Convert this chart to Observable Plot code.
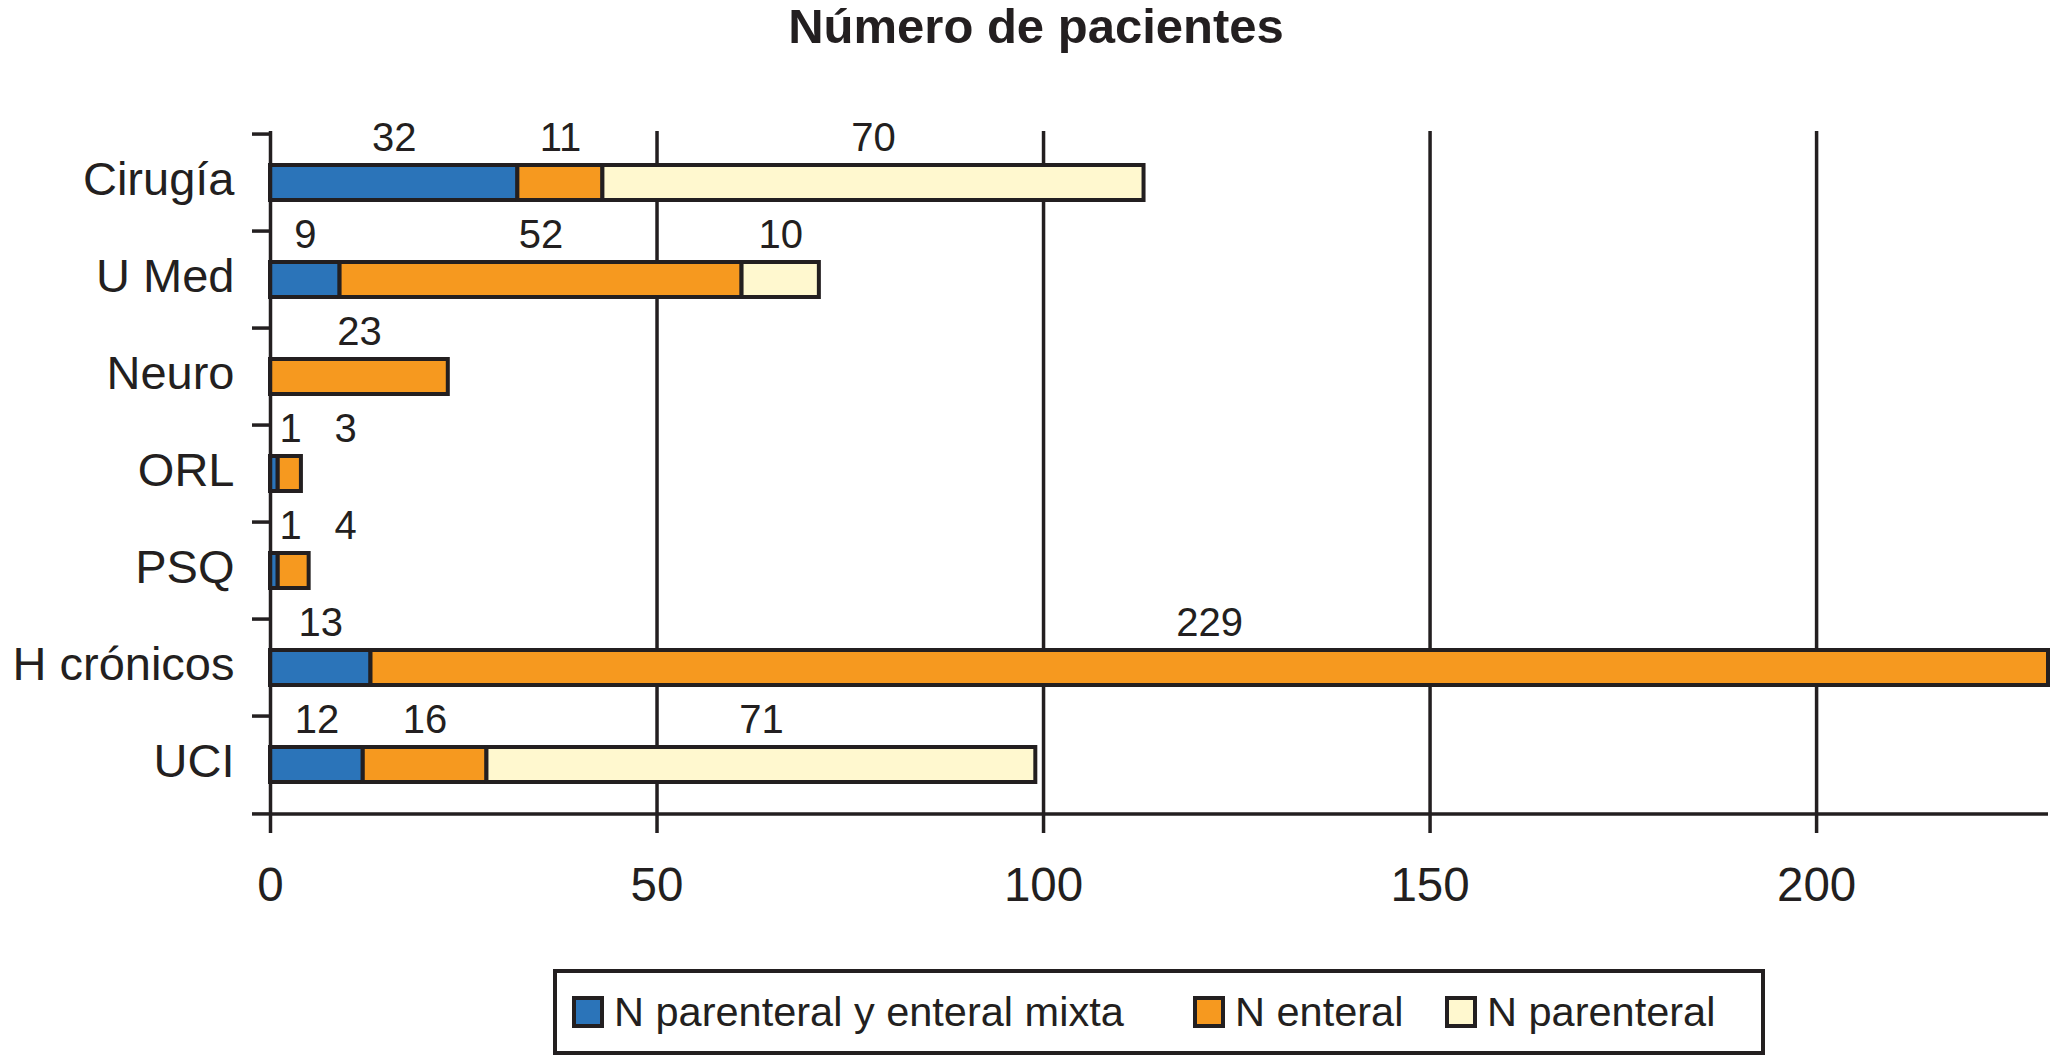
<!DOCTYPE html>
<html>
<head>
<meta charset="utf-8">
<script src="https://cdn.jsdelivr.net/npm/d3@7"></script>
<script src="https://cdn.jsdelivr.net/npm/@observablehq/plot@0.6"></script>
<style>
  html, body { margin: 0; padding: 0; background: #fff; }
  #wrap { position: relative; width: 2051px; height: 1058px; font-family: "Liberation Sans", Arial, Helvetica, sans-serif; color: #231f20; }
  #title { position: absolute; top: 2px; left: 0; width: 2072px; text-align: center; font-weight: bold; font-size: 49px; line-height: 1; }
  #chart { position: absolute; top: 60px; left: 0; }
  #legend { position: absolute; left: 553px; top: 969px; width: 1212px; height: 86px; box-sizing: border-box; border: 4px solid #231f20; background: #fff; }
  .item { position: absolute; top: 0; height: 78px; display: flex; align-items: center; font-size: 41.5px; line-height: 1; white-space: nowrap; }
  .sw { width: 32px; height: 32px; box-sizing: border-box; border: 4px solid #231f20; margin-right: 10px; }
</style>
</head>
<body>
<div id="wrap">
  <div id="title">Número de pacientes</div>
  <div id="chart"></div>
  <div id="legend"></div>
</div>
<script>
const categories = ["Cirugía", "U Med", "Neuro", "ORL", "PSQ", "H crónicos", "UCI"];
const series = ["N parenteral y enteral mixta", "N enteral", "N parenteral"];
const mixta = [32, 9, 0, 1, 1, 13, 12];
const enteral = [11, 52, 23, 3, 4, 229, 16];
const parenteral = [70, 10, 0, 0, 0, 0, 71];
const xTicks = [0, 50, 100, 150, 200];
const xMax = 230;
const colors = ["#2b74b9", "#f6991f", "#fff8cf"];
const ink = "#231f20";

const values = [mixta, enteral, parenteral];
const rows = [];
categories.forEach((c, i) => {
  series.forEach((s, j) => {
    if (values[j][i] > 0) rows.push({category: c, series: s, value: values[j][i]});
  });
});

// layout
const W = 2051, H = 900;
const mL = 270, mR = 3, mT = 71, mB = 144;
const ppu = (W - mL - mR) / xMax;
const step = (H - mT - mB) / categories.length;

// value labels at segment centres, nudged apart when segments are tiny
const labels = [];
categories.forEach((c, i) => {
  let start = 0, prev = -Infinity;
  series.forEach((s, j) => {
    const v = values[j][i];
    if (v > 0) {
      const end = start + v;
      let mid = (start + Math.min(end, xMax)) / 2;
      mid = Math.max(mid, 20 / ppu, prev + 55 / ppu);
      labels.push({category: c, lx: mid, value: v});
      prev = mid;
      start = end;
    }
  });
});

const plot = Plot.plot({
  width: W, height: H,
  marginLeft: mL, marginRight: mR, marginTop: mT, marginBottom: mB,
  style: {fontFamily: '"Liberation Sans", Arial, Helvetica, sans-serif', color: ink, background: "white", overflow: "visible"},
  x: {domain: [0, xMax], clamp: true},
  y: {domain: categories, paddingInner: 0.64, paddingOuter: 0.32},
  color: {domain: series, range: colors},
  marks: [
    Plot.ruleX(xTicks.slice(1), {stroke: ink, strokeWidth: 3.5}),
    Plot.barX(rows, Plot.stackX({x: "value", y: "category", fill: "series", stroke: ink, strokeWidth: 4})),
    Plot.ruleX([0], {stroke: ink, strokeWidth: 3.5}),
    Plot.ruleY([categories[categories.length - 1]], {dy: step / 2, stroke: ink, strokeWidth: 3.5}),
    Plot.axisY({tickSize: 18, strokeWidth: 3.5, tickFormat: () => "", dy: -step / 2, label: null}),
    Plot.axisY({ticks: [categories[categories.length - 1]], tickSize: 18, strokeWidth: 3.5, tickFormat: () => "", dy: step / 2, label: null}),
    Plot.axisY({tickSize: 0, tickPadding: 36, fontSize: 47, dy: -3, label: null}),
    Plot.axisX({ticks: xTicks, tickSize: 17, tickPadding: 34, fontSize: 47.5, strokeWidth: 3.5, label: null}),
    Plot.text(labels, {x: "lx", y: "category", text: d => String(d.value), dy: -45, fontSize: 40, fill: ink})
  ]
});
document.getElementById("chart").appendChild(plot);

// legend
const legend = document.getElementById("legend");
const itemLeft = [15, 636, 888];
series.forEach((s, j) => {
  const it = document.createElement("div");
  it.className = "item";
  it.style.left = itemLeft[j] + "px";
  const sw = document.createElement("div");
  sw.className = "sw";
  sw.style.background = colors[j];
  const tx = document.createElement("span");
  tx.textContent = s;
  it.appendChild(sw);
  it.appendChild(tx);
  legend.appendChild(it);
});
</script>
</body>
</html>
